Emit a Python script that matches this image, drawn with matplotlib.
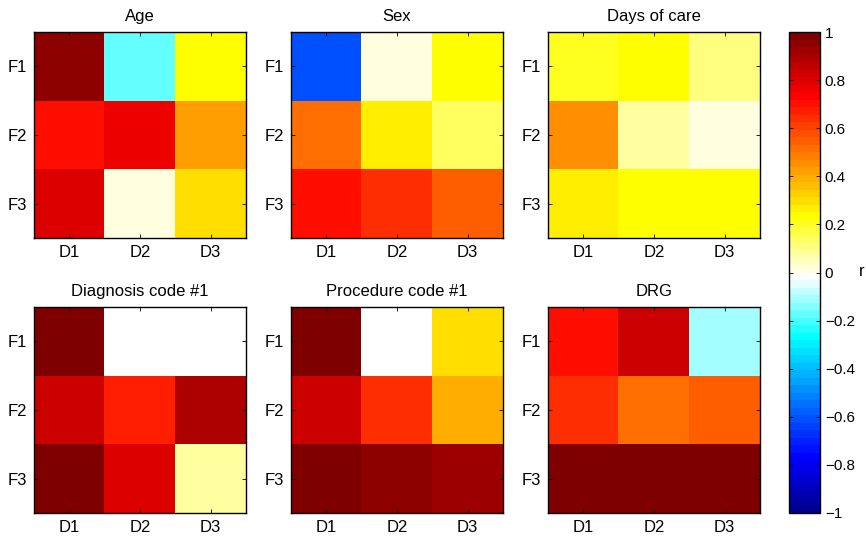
import numpy as np
import matplotlib
matplotlib.use('Agg')
import matplotlib.pyplot as plt
from matplotlib.colors import LinearSegmentedColormap, ListedColormap

plt.rcParams['font.family'] = ['Liberation Sans', 'DejaVu Sans']
plt.rcParams['font.size'] = 10

# correlation matrices (rows F1..F3, columns D1..D3)
titles = ['Age', 'Sex', 'Days of care',
          'Diagnosis code #1', 'Procedure code #1', 'DRG']
row_labels = ['F1', 'F2', 'F3']
col_labels = ['D1', 'D2', 'D3']

age = [[0.95, -0.17, 0.24],
       [0.715, 0.75, 0.42],
       [0.785, 0.03, 0.29]]
sex = [[-0.60, 0.03, 0.24],
       [0.50, 0.27, 0.15],
       [0.715, 0.65, 0.55]]
days_of_care = [[0.20, 0.24, 0.12],
                [0.44, 0.07, 0.03],
                [0.27, 0.24, 0.24]]
diagnosis = [[1.00, -0.01, -0.01],
             [0.815, 0.685, 0.885],
             [0.975, 0.785, 0.07]]
procedure = [[1.00, -0.01, 0.29],
             [0.815, 0.65, 0.40],
             [0.99, 0.965, 0.935]]
drg = [[0.715, 0.84, -0.10],
       [0.65, 0.50, 0.535],
       [0.975, 1.00, 1.00]]

matrices = [age, sex, days_of_care, diagnosis, procedure, drg]

# diverging map: navy - blue - cyan - white | yellow - red - dark red
neg = LinearSegmentedColormap.from_list('neg', [
    (0.0, (0, 0, 0.5)), (0.25, (0, 0, 1)), (0.75, (0, 1, 1)), (1.0, (1, 1, 1))])
pos = LinearSegmentedColormap.from_list('pos', [
    (0.0, (1, 1, 1)), (0.25, (1, 1, 0)), (0.75, (1, 0, 0)), (1.0, (0.5, 0, 0))])
n = 32
levels = np.arange(1, n + 1) / n
cmap = ListedColormap(np.vstack([neg(levels), pos(levels)]))

W, H = 866, 541
fig = plt.figure(figsize=(W / 100, H / 100), dpi=100)

lefts = [34, 291, 548]
tops = [32, 307]
aw, ah = 212, 206

for i, (mat, title) in enumerate(zip(matrices, titles)):
    r, c = divmod(i, 3)
    ax = fig.add_axes([lefts[c] / W, 1 - (tops[r] + ah) / H, aw / W, ah / H])
    im = ax.imshow(np.array(mat), cmap=cmap, vmin=-1, vmax=1,
                   aspect='auto', interpolation='nearest')
    ax.set_xticks(range(3))
    ax.set_xticklabels(col_labels, fontsize=12)
    ax.set_yticks(range(3))
    ax.set_yticklabels(row_labels, fontsize=12)
    ax.tick_params(direction='in', length=3, top=True, right=True, width=0.6, pad=5)
    ax.set_title(title, fontsize=12, pad=8)
    for s in ax.spines.values():
        s.set_linewidth(1.0)

cax = fig.add_axes([789 / W, 1 - 513 / H, 31 / W, 481 / H])
cb = fig.colorbar(im, cax=cax, ticks=np.linspace(-1, 1, 11))
cb.ax.set_yticklabels(['\u22121', '\u22120.8', '\u22120.6', '\u22120.4', '\u22120.2',
                       '0', '0.2', '0.4', '0.6', '0.8', '1'], fontsize=11)
cb.ax.tick_params(direction='in', length=3, left=True, right=True, width=0.6)
cb.outline.set_linewidth(1.0)
fig.text(859 / W, 1 - 272 / H, 'r', fontsize=12, va='center', ha='left')

fig.savefig('out.png', dpi=100)
